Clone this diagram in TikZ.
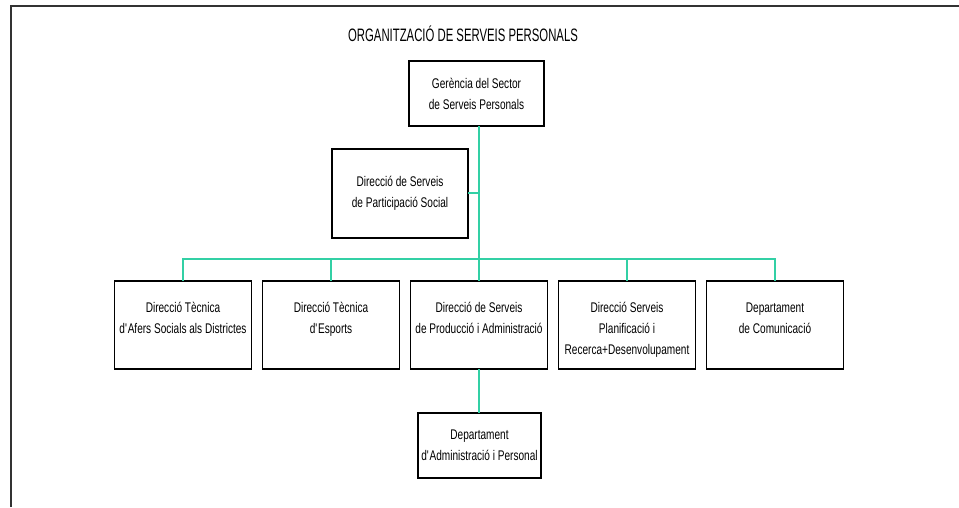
\documentclass[tikz,border=0pt]{standalone}
\usepackage{fontspec}
\setmainfont{Liberation Sans}[FakeStretch=0.72]
\newfontfamily\titlefont{Liberation Sans}[FakeStretch=0.63]
\definecolor{connc}{RGB}{50,208,165}
\definecolor{framec}{RGB}{50,50,50}
\begin{document}
\begin{tikzpicture}[x=1pt,y=-1pt,
  box/.style={draw=black, line width=1.4pt, inner sep=0pt, outer sep=0pt,
    font=\fontsize{14}{21}\selectfont, align=center},
  rowbox/.style={box, minimum width=137pt, minimum height=88pt},
  txt/.style={font=\fontsize{14}{21}\selectfont, align=center, inner sep=0pt, anchor=north},
  conn/.style={color=connc, line width=2pt},
  thinconn/.style={color=connc, line width=1.3pt}]
\useasboundingbox (0,0) rectangle (959,507);
\draw[framec, line width=2pt] (10.5,507) -- (10.5,6) -- (959,6);
\node[font=\titlefont\fontsize{18}{22}\selectfont, inner sep=0pt] (title) at (463,34) {ORGANITZACIÓ DE SERVEIS PERSONALS};
\node[box, minimum width=135pt, minimum height=65pt] (g) at (476.5,93.5) {Gerència del Sector\\de Serveis Personals};
\node[box, minimum width=136pt, minimum height=89pt] (p) at (400,193.5) {Direcció de Serveis\\de Participació Social};
\node[rowbox] (b1) at (183,325) {};
\node[rowbox] (b2) at (331,325) {};
\node[rowbox] (b3) at (479,325) {};
\node[rowbox] (b4) at (627,325) {};
\node[rowbox] (b5) at (775,325) {};
\node[txt] (t1) at ([yshift=-16.3pt]b1.north) {\strut Direcció Tècnica\\d\textquotesingle Afers Socials als Districtes};
\node[txt] (t2) at ([yshift=-16.3pt]b2.north) {\strut Direcció Tècnica\\d\textquotesingle Esports};
\node[txt] (t3) at ([yshift=-16.3pt]b3.north) {\strut Direcció de Serveis\\de Producció i Administració};
\node[txt] (t4) at ([yshift=-16.3pt]b4.north) {\strut Direcció Serveis\\Planificació i\\Recerca+Desenvolupament};
\node[txt] (t5) at ([yshift=-16.3pt]b5.north) {\strut Departament\\de Comunicació};
\node[box, minimum width=123pt, minimum height=65pt] (d) at (479.5,445.5) {Departament\\d\textquotesingle Administració i Personal};
\coordinate (bus) at (0,259);
\coordinate (jp) at (479,193);
\draw[conn] (b3 |- g.south) -- (jp) -- (b3.north);
\draw[conn] (p.east |- jp) -- (jp);
\draw[thinconn] (b1.north) -- (b1 |- bus) -- (b5 |- bus) -- (b5.north);
\draw[thinconn] (b2.north) -- (b2 |- bus);
\draw[thinconn] (b4.north) -- (b4 |- bus);
\draw[conn] (b3.south) -- (b3.south |- d.north);
\end{tikzpicture}
\end{document}
